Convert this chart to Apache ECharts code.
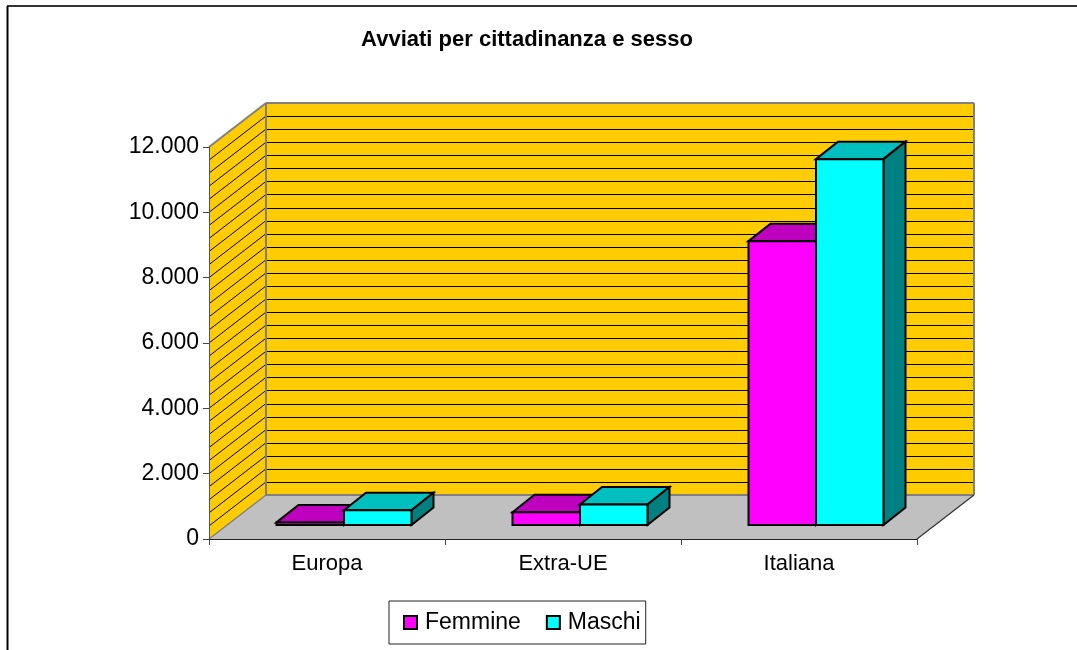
<!DOCTYPE html>
<html>
<head>
<meta charset="utf-8">
<style>html,body{margin:0;padding:0;background:#fff}#c{width:1077px;height:650px}</style>
<script src="https://cdn.jsdelivr.net/npm/echarts@6/dist/echarts.min.js"></script>
</head>
<body>
<div id="c"></div>
<script>
const categories = ['Europa', 'Extra-UE', 'Italiana'];
const femmine = [80, 390, 8690];
const maschi = [450, 625, 11200];
const gridValues = [400,800,1200,1600,2000,2400,2800,3200,3600,4000,4400,4800,5200,5600,6000,6400,6800,7200,7600,8000,8400,8800,9200,9600,10000,10400,10800,11200,11600];
const FONT = '"Liberation Sans", Arial, sans-serif';
const WALL = [57, -44], BAR_SHIFT = [17, -14], BAR_DEPTH = [22, -17.5], BAR_BAND = 67.5 / 236;

const chart = echarts.init(document.getElementById('c'), null, {renderer: 'canvas'});

function poly(points, fill, stroke, lw, z2) {
  return {type: 'polygon', z2: z2 || 0, shape: {points},
    style: {fill, stroke: stroke || null, lineWidth: lw || 0, lineJoin: 'miter'}};
}
function seg(a, b, stroke, lw, z2) {
  return {type: 'line', z2: z2 || 0, shape: {x1: a[0], y1: a[1], x2: b[0], y2: b[1]},
    style: {stroke, lineWidth: lw}};
}
function renderWalls(params, api) {
  const cs = params.coordSys;
  const y0 = api.coord([0, 0])[1], y1 = api.coord([0, 12000])[1];
  const xl = cs.x, xr = cs.x + cs.width, dx = WALL[0], dy = WALL[1];
  return {type: 'group', children: [
    poly([[xl, y1], [xl + dx, y1 + dy], [xl + dx, y0 + dy], [xl, y0]], '#FFCC00'),
    poly([[xl + dx, y1 + dy], [xr + dx, y1 + dy], [xr + dx, y0 + dy], [xl + dx, y0 + dy]], '#FFCC00'),
    poly([[xl, y0], [xr, y0], [xr + dx, y0 + dy], [xl + dx, y0 + dy]], '#C0C0C0')
  ]};
}
function renderGrid(params, api) {
  const cs = params.coordSys;
  const v = api.value(1);
  const xl = cs.x, xr = cs.x + cs.width, dx = WALL[0], dy = WALL[1];
  const y = api.coord([0, v])[1];
  const yb = Math.round(y + dy) + 0.5;
  return {type: 'group', children: [
    seg([xl, y], [xl + dx, y + dy], '#000', 1),
    seg([xl + dx, yb], [xr + dx, yb], '#000', 1)
  ]};
}
function renderEdges(params, api) {
  const cs = params.coordSys;
  const y0 = api.coord([0, 0])[1], y1 = api.coord([0, 12000])[1];
  const xl = cs.x, xr = cs.x + cs.width, dx = WALL[0], dy = WALL[1];
  const g = '#808080';
  return {type: 'group', children: [
    seg([xl, y1], [xl + dx, y1 + dy], g, 2),
    seg([xl + dx, y1 + dy], [xr + dx, y1 + dy], g, 2),
    seg([xl + dx, y1 + dy], [xl + dx, y0 + dy], g, 2),
    seg([xr + dx, y1 + dy], [xr + dx, y0 + dy], g, 2),
    seg([xl + dx, y0 + dy], [xr + dx, y0 + dy], g, 2),
    seg([xl, y0], [xl + dx, y0 + dy], g, 1.5),
    seg([xr, y0], [xr + dx, y0 + dy], '#333', 1.2)
  ]};
}
function barRenderer(side, front, top, right) {
  return function (params, api) {
    const cat = api.value(0), val = api.value(1);
    const band = api.size([1, 0])[0];
    const w = band * BAR_BAND;
    const cx = api.coord([cat, 0])[0] + BAR_SHIFT[0];
    const yb = api.coord([cat, 0])[1] + BAR_SHIFT[1];
    const yt = api.coord([cat, val])[1] + BAR_SHIFT[1];
    const xa = side < 0 ? cx - w : cx, xb = side < 0 ? cx : cx + w;
    const dx = BAR_DEPTH[0], dy = BAR_DEPTH[1];
    const s = '#000', lw = 2;
    return {type: 'group', children: [
      poly([[xa, yt], [xa + dx, yt + dy], [xb + dx, yt + dy], [xb, yt]], top, s, lw, 1),
      poly([[xb, yt], [xb + dx, yt + dy], [xb + dx, yb + dy], [xb, yb]], right, s, lw, 1),
      poly([[xa, yt], [xb, yt], [xb, yb], [xa, yb]], front, s, lw, 2)
    ]};
  };
}

chart.setOption({
  animation: false,
  backgroundColor: '#fff',
  title: {
    text: 'Avviati per cittadinanza e sesso',
    left: 522, top: 24, textAlign: 'center',
    textStyle: {fontFamily: FONT, fontSize: 22, fontWeight: 'bold', color: '#000'}
  },
  legend: {
    show: true, left: 389, top: 601, orient: 'horizontal', icon: 'rect',
    padding: [10, 5, 10, 14], itemGap: 25, itemWidth: 13, itemHeight: 13,
    backgroundColor: '#fff', borderColor: '#222', borderWidth: 1,
    textStyle: {fontFamily: FONT, fontSize: 23, color: '#000', padding: [0, 0, 3, 3]},
    data: [
      {name: 'Femmine', itemStyle: {color: '#FF00FF', borderColor: '#000', borderWidth: 2}},
      {name: 'Maschi', itemStyle: {color: '#00FFFF', borderColor: '#000', borderWidth: 2}}
    ]
  },
  grid: {left: 209, right: 160, top: 147, bottom: 111, containLabel: false},
  xAxis: {
    type: 'category', data: categories, z: 10,
    axisLine: {show: true, lineStyle: {color: '#222', width: 1}},
    axisTick: {show: true, length: 6, lineStyle: {color: '#444'}},
    axisLabel: {fontFamily: FONT, fontSize: 22, color: '#000', margin: 14},
    splitLine: {show: false}
  },
  yAxis: {
    type: 'value', min: 0, max: 12000, interval: 2000, z: 10,
    axisLine: {show: true, lineStyle: {color: '#555', width: 1}},
    axisTick: {show: true, length: 6, lineStyle: {color: '#444'}},
    axisLabel: {
      fontFamily: FONT, fontSize: 23, color: '#000', margin: 10,
      formatter: v => v === 0 ? '0' : (v / 1000).toFixed(3)
    },
    splitLine: {show: false}
  },
  graphic: [
    {type: 'line', z: 100, shape: {x1: 7, y1: 6, x2: 1077, y2: 6}, style: {stroke: '#333', lineWidth: 2}},
    {type: 'line', z: 100, shape: {x1: 7.5, y1: 6, x2: 7.5, y2: 650}, style: {stroke: '#000', lineWidth: 2}}
  ],
  series: [
    {type: 'custom', name: 'walls', silent: true, z: 1, clip: false, data: [[0, 0]], encode: {x: 0, y: 1}, renderItem: renderWalls},
    {type: 'custom', name: 'grid', silent: true, z: 2, clip: false, data: gridValues.map(v => [0, v]), encode: {x: 0, y: 1}, renderItem: renderGrid},
    {type: 'custom', name: 'edges', silent: true, z: 3, clip: false, data: [[0, 0]], encode: {x: 0, y: 1}, renderItem: renderEdges},
    {type: 'custom', name: 'Femmine', z: 4, clip: false, itemStyle: {color: '#FF00FF'},
      data: femmine.map((v, i) => [i, v]), encode: {x: 0, y: 1},
      renderItem: barRenderer(-1, '#FF00FF', '#BF00BF', '#800080')},
    {type: 'custom', name: 'Maschi', z: 5, clip: false, itemStyle: {color: '#00FFFF'},
      data: maschi.map((v, i) => [i, v]), encode: {x: 0, y: 1},
      renderItem: barRenderer(1, '#00FFFF', '#00BFBF', '#008080')}
  ]
});
</script>
</body>
</html>
